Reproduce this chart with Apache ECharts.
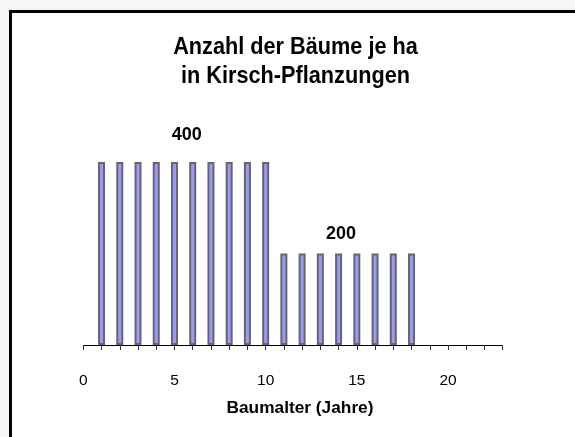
<!DOCTYPE html>
<html>
<head>
<meta charset="utf-8">
<script src="https://cdn.jsdelivr.net/npm/echarts@6/dist/echarts.min.js"></script>
<style>
html,body{margin:0;padding:0;background:#f7f7f7;}
#chart{width:575px;height:437px;}
</style>
</head>
<body>
<div id="chart"></div>
<script>
// Data
const treeAges = [1,2,3,4,5,6,7,8,9,10,11,12,13,14,15,16,17,18];
const treesPerHa = [400,400,400,400,400,400,400,400,400,400,200,200,200,200,200,200,200,200];
const xTickLabels = ['0','5','10','15','20'];
// annotation anchor positions in data units and their texts
const annotationX = [5.67, 14.13];
const annotationY = [459, 243];
const annotationText = ['400', '200'];
const titleLines = ['Anzahl der Bäume je ha', 'in Kirsch-Pflanzungen'];
const xAxisTitle = 'Baumalter (Jahre)';

const chart = echarts.init(document.getElementById('chart'), null, {renderer: 'canvas'});
const FONT = '"Liberation Sans", Arial, sans-serif';

chart.setOption({
  backgroundColor: '#f7f7f7',
  animation: false,
  graphic: [{
    type: 'rect',
    z: -10,
    shape: {x: 10.5, y: 11.5, width: 620, height: 480},
    style: {fill: '#ffffff', stroke: '#000000', lineWidth: 3}
  }].concat(titleLines.map((t, i) => ({
    type: 'text',
    x: 295.5,
    y: 47 + i * 29,
    scaleY: 1.12,
    style: {
      text: t, fill: '#000', textAlign: 'center', textVerticalAlign: 'middle',
      font: 'bold 21.7px ' + FONT
    }
  }))),
  grid: {left: 83.3, right: 72.3, top: 162, bottom: 92},
  xAxis: {
    type: 'value',
    min: 0, max: 23, interval: 1,
    axisLine: {lineStyle: {color: '#000', width: 1}},
    axisTick: {show: true, length: 5, lineStyle: {color: '#333'}},
    splitLine: {show: false},
    axisLabel: {
      margin: 28,
      fontFamily: FONT, fontSize: 15.5, color: '#000',
      formatter: function (v) { return xTickLabels.indexOf(String(v)) >= 0 ? String(v) : ''; }
    },
    name: xAxisTitle,
    nameLocation: 'middle',
    nameGap: 55,
    nameTextStyle: {fontFamily: FONT, fontWeight: 'bold', fontSize: 17.3, color: '#000', padding: [0, 0, 0, 14]}
  },
  yAxis: {type: 'value', min: 0, max: 400, show: false},
  series: [{
    type: 'bar',
    data: treeAges.map((a, i) => [a, treesPerHa[i]]),
    barWidth: 7,
    itemStyle: {color: '#9999ff', borderColor: '#666666', borderWidth: 2}
  }, {
    type: 'scatter',
    symbolSize: 0,
    silent: true,
    clip: false,
    itemStyle: {opacity: 1},
    data: annotationX.map((x, i) => ({value: [x, annotationY[i]], label: {formatter: annotationText[i]}})),
    label: {
      show: true, position: 'inside',
      fontFamily: FONT, fontWeight: 'bold', fontSize: 18, color: '#000000',
      textBorderWidth: 0, textBorderColor: 'transparent'
    }
  }]
});
</script>
</body>
</html>
